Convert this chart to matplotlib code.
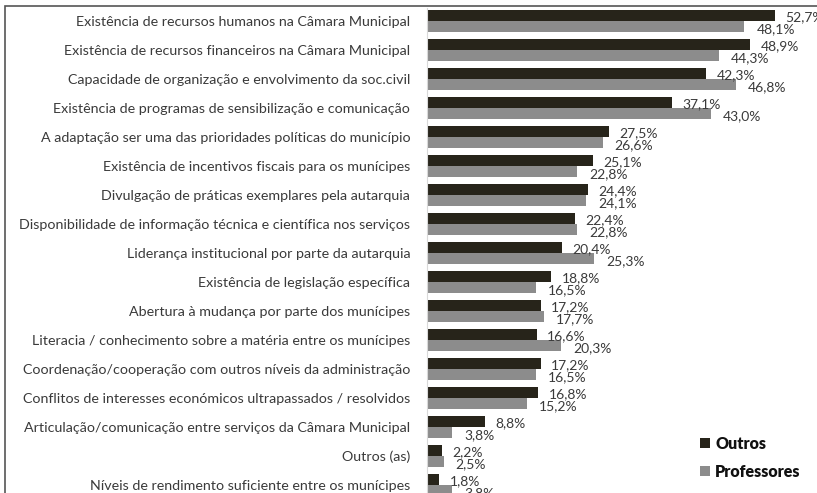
import matplotlib.pyplot as plt
from matplotlib.patches import Rectangle

categories = [
    'Existência de recursos humanos na Câmara Municipal',
    'Existência de recursos financeiros na Câmara Municipal',
    'Capacidade de organização e envolvimento da soc.civil',
    'Existência de programas de sensibilização e comunicação',
    'A adaptação ser uma das prioridades políticas do município',
    'Existência de incentivos fiscais para os munícipes',
    'Divulgação de práticas exemplares pela autarquia',
    'Disponibilidade de informação técnica e científica nos serviços',
    'Liderança institucional por parte da autarquia',
    'Existência de legislação específica',
    'Abertura à mudança por parte dos munícipes',
    'Literacia / conhecimento sobre a matéria entre os munícipes',
    'Coordenação/cooperação com outros níveis da administração',
    'Conflitos de interesses económicos ultrapassados / resolvidos',
    'Articulação/comunicação entre serviços da Câmara Municipal',
    'Outros (as)',
    'Níveis de rendimento suficiente entre os munícipes',
]
outros = [52.7, 48.9, 42.3, 37.1, 27.5, 25.1, 24.4, 22.4, 20.4, 18.8, 17.2, 16.6, 17.2, 16.8, 8.8, 2.2, 1.8]
professores = [48.1, 44.3, 46.8, 43.0, 26.6, 22.8, 24.1, 22.8, 25.3, 16.5, 17.7, 20.3, 16.5, 15.2, 3.8, 2.5, 3.8]
series_names = ['Outros', 'Professores']

dark = '#27241a'
gray = '#8c8c8c'
txt = '#3a3a3a'
font = 'Lato'

W, H = 817, 493
fig = plt.figure(figsize=(W / 100, H / 100), dpi=100)

# frame around the picture (right/bottom cut off)
fig.patches.append(Rectangle((5 / W, -0.1), 1.2, 1 - 6 / H + 0.1, transform=fig.transFigure,
                             fill=False, edgecolor='#555555', linewidth=1.2))

ax = fig.add_axes([427 / W, 0, 1 - 427 / W, 1 - 8 / H])
pitch = 29.0
top_y, first_c = 8, 21
ax.set_ylim(16 + (H - (first_c + 16 * pitch)) / pitch, -(first_c - top_y) / pitch)
ax.set_xlim(0, (W - 427) / 6.6)

h = 0.38
ys = list(range(len(categories)))
ax.barh([y - h / 2 for y in ys], outros, height=h, color=dark, label=series_names[0])
ax.barh([y + h / 2 for y in ys], professores, height=h, color=gray, label=series_names[1])

for y, a, b in zip(ys, outros, professores):
    ax.text(a + 1.6, y - h / 2 + 0.05, f'{a:.1f}%'.replace('.', ','), va='center', ha='left',
            fontsize=10, color=txt, family=font)
    ax.text(b + 1.8, y + h / 2 + 0.08, f'{b:.1f}%'.replace('.', ','), va='center', ha='left',
            fontsize=10, color=txt, family=font)

ax.set_yticks(ys)
ax.set_yticklabels(categories, family=font, fontsize=10.3, color=txt)
ax.tick_params(axis='y', length=0, pad=12)
ax.set_xticks([])
for s in ['top', 'right', 'bottom']:
    ax.spines[s].set_visible(False)
ax.spines['left'].set_color('#d9d9d9')
ax.patch.set_alpha(0)

leg = fig.legend(loc='upper left', bbox_to_anchor=(700 / W, 1 - 436 / H), frameon=False,
                 prop={'family': font, 'weight': 'heavy', 'size': 11.5},
                 borderpad=0, borderaxespad=0,
                 handlelength=0.6, handleheight=0.6, handletextpad=0.35, labelspacing=0.75)
for t in leg.get_texts():
    t.set_color('#111111')

fig.savefig('out.png', dpi=100)
